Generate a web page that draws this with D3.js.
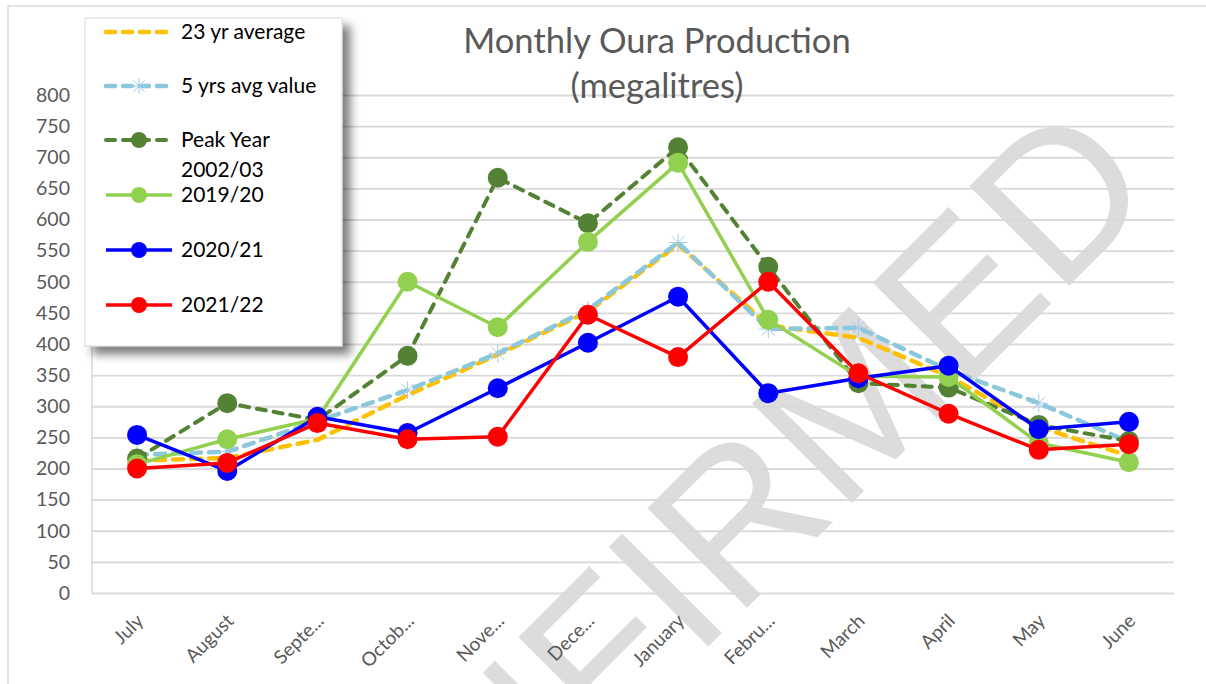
<!DOCTYPE html>
<html><head><meta charset="utf-8">
<script src="https://cdn.jsdelivr.net/npm/d3@7"></script>
<style>body{margin:0;background:#fff}svg{display:block}</style></head>
<body>
<svg id="c" width="1206" height="684"></svg>
<script>
const months = ["July","August","September","October","November","December","January","February","March","April","May","June"];
const monthLabels = ["July","August","Septe...","Octob...","Nove...","Dece...","January","Febru...","March","April","May","June"];
const yTicks = [0,50,100,150,200,250,300,350,400,450,500,550,600,650,700,750,800];
const avg23 = [213,217,246,318,383,452,560,430,410,348,267,220];
const avg5 = [222,227,276,326,385,455,563,424,426,358,305,243];
const peak0203 = [216,305,278,381,667,594,716,524,337,330,270,244];
const y1920 = [207,247,280,500,427,564,691,439,348,347,241,210];
const y2021 = [254,196,283,257,329,402,476,321,345,365,263,275];
const y2122 = [200,209,273,247,251,447,379,500,353,288,230,239];
const seriesNames = ["23 yr average","5 yrs avg value","Peak Year 2002/03","2019/20","2020/21","2021/22"];
const titleLines = ["Monthly Oura Production","(megalitres)"];

const series = [
  {name: seriesNames[0], values: avg23, color: "#FFC000", dash: "10 8", width: 4.5, marker: null},
  {name: seriesNames[1], values: avg5, color: "#8CC8DC", dash: "10 8", width: 4.5, marker: "star"},
  {name: seriesNames[2], values: peak0203, color: "#548235", dash: "9 8", width: 4, marker: "circle"},
  {name: seriesNames[3], values: y1920, color: "#92D050", dash: null, width: 3.5, marker: "circle"},
  {name: seriesNames[4], values: y2021, color: "#0000FF", dash: null, width: 3.5, marker: "circle"},
  {name: seriesNames[5], values: y2122, color: "#FF0000", dash: null, width: 3.5, marker: "circle"}
];

const svg = d3.select("#c");
const L = 92, R = 1174, T = 95, B = 593;
const x = d3.scalePoint().domain(months).range([L, R]).padding(0.5);
const y = d3.scaleLinear().domain([0, 800]).range([B, T]);
const font = "Lato, 'Open Sans', sans-serif";

const defs = svg.append("defs");
const f = defs.append("filter").attr("id","sh").attr("x","-20%").attr("y","-20%").attr("width","150%").attr("height","150%");
f.append("feDropShadow").attr("dx",8).attr("dy",8).attr("stdDeviation",5).attr("flood-color","#000").attr("flood-opacity",0.5);

// watermark
svg.append("text")
  .attr("transform","translate(1162,193) rotate(-45)")
  .attr("text-anchor","end")
  .attr("font-family","'Liberation Sans', Arial, sans-serif")
  .attr("font-size",205)
  .attr("fill","#dcdcdc")
  .text("UNCONFIRMED");

// outer frame
svg.append("path").attr("d","M8,684 V6 H1206").attr("fill","none").attr("stroke","#d9d9d9").attr("stroke-width",1.5);

// grid
svg.append("g").attr("transform",`translate(${L},0)`)
  .call(d3.axisLeft(y).tickValues(yTicks).tickSize(-(R-L)).tickFormat(""))
  .call(g => g.select(".domain").remove())
  .call(g => g.selectAll("line").attr("stroke","#d9d9d9").attr("stroke-width",1.8));
svg.append("line").attr("x1",L).attr("x2",L).attr("y1",T).attr("y2",B).attr("stroke","#d9d9d9").attr("stroke-width",1.5);

// y labels
svg.append("g").attr("transform",`translate(${L},0)`)
  .call(d3.axisLeft(y).tickValues(yTicks).tickSize(0).tickPadding(22))
  .call(g => g.select(".domain").remove())
  .call(g => g.selectAll("text").attr("font-family",font).attr("font-size",19.5).attr("fill","#595959"));

// x labels
const xa = svg.append("g").attr("transform",`translate(0,${B})`)
  .call(d3.axisBottom(x).tickSize(0).tickFormat((d,i) => monthLabels[i]));
xa.select(".domain").remove();
xa.selectAll("text")
  .attr("font-family",font).attr("font-size",19).attr("fill","#595959")
  .attr("text-anchor","end").attr("dy",0)
  .attr("transform","translate(5,27) rotate(-45)");

// title
svg.append("text").attr("x",657).attr("y",0).attr("text-anchor","middle")
  .attr("font-family",font).attr("font-size",34.5).attr("fill","#595959")
  .selectAll("tspan").data(titleLines).join("tspan")
  .attr("x",657).attr("y",(d,i)=>53+i*45).text(d=>d);

// series
const line = d3.line().x((d,i)=>x(months[i])).y(d=>y(d));
function starPath(cx, cy, r){
  let p = "";
  for (let a of [90, 45, 135, 0]) {
    const rad = a*Math.PI/180, dx = Math.cos(rad)*r, dy = Math.sin(rad)*r;
    p += `M${cx-dx},${cy-dy}L${cx+dx},${cy+dy}`;
  }
  return p;
}
series.forEach(s => {
  const g = svg.append("g");
  g.append("path").datum(s.values).attr("d", line)
    .attr("fill","none").attr("stroke", s.color).attr("stroke-width", s.width)
    .attr("stroke-dasharray", s.dash).attr("stroke-linecap", s.dash ? "round" : "butt").attr("stroke-linejoin","round");
  if (s.marker === "circle") {
    g.selectAll("circle").data(s.values).join("circle")
      .attr("cx",(d,i)=>x(months[i])).attr("cy",d=>y(d)).attr("r",10).attr("fill",s.color);
  } else if (s.marker === "star") {
    g.selectAll("path.st").data(s.values).join("path").attr("class","st")
      .attr("d",(d,i)=>starPath(x(months[i]), y(d), 9)).attr("stroke","#9fc9ea").attr("stroke-width",1);
  }
});

// legend
const lg = svg.append("g");
lg.append("rect").attr("x",85).attr("y",18).attr("width",257).attr("height",328)
  .attr("fill","#fff").attr("stroke","#d9d9d9").attr("stroke-width",1).attr("filter","url(#sh)");
const rowsY = [32, 86, 140, 195, 250, 305];
series.forEach((s, i) => {
  const yy = rowsY[i];
  lg.append("line").attr("x1",106).attr("x2",172).attr("y1",yy).attr("y2",yy)
    .attr("stroke",s.color).attr("stroke-width",s.width)
    .attr("stroke-dasharray", s.dash ? "9 8" : null).attr("stroke-linecap", s.dash ? "round" : "butt");
  if (s.marker === "circle") lg.append("circle").attr("cx",139).attr("cy",yy).attr("r",8).attr("fill",s.color);
  if (s.marker === "star") lg.append("path").attr("d",starPath(139,yy,8)).attr("stroke","#9fc9ea").attr("stroke-width",1);
  const t = lg.append("text").attr("x",181).attr("y",yy+7).attr("font-family",font).attr("font-size",21).attr("fill","#000");
  if (s.name === "Peak Year 2002/03") {
    t.append("tspan").attr("x",181).attr("y",yy+7).text("Peak Year");
    t.append("tspan").attr("x",181).attr("y",yy+37).text("2002/03");
  } else t.text(s.name);
});
</script>
</body></html>
